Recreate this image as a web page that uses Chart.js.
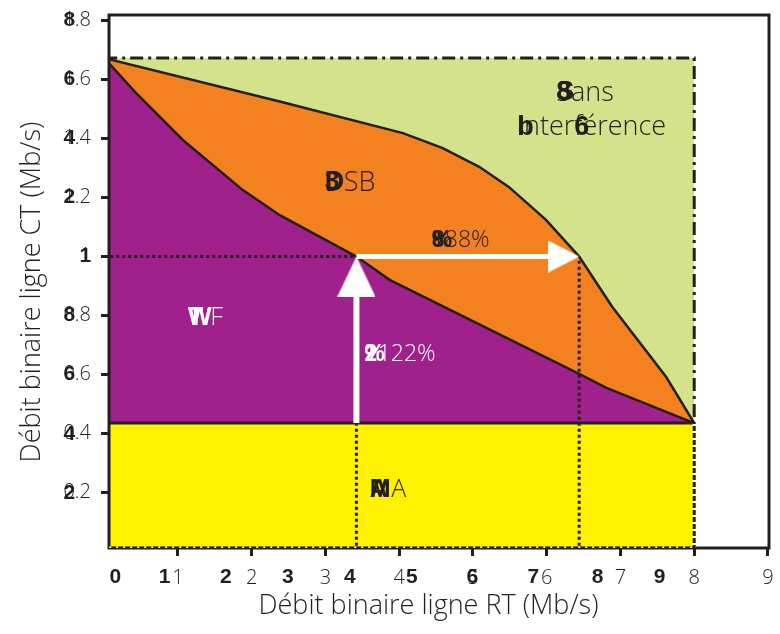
<!DOCTYPE html>
<html>
<head>
<meta charset="utf-8">
<script src="https://cdn.jsdelivr.net/npm/chart.js@4.4.1/dist/chart.umd.min.js"></script>
<style>
  html, body { margin: 0; padding: 0; background: #fff; }
</style>
</head>
<body>
<canvas id="graph" width="780" height="634"></canvas>
<script>
// graduations
var ticksRT = [1, 2, 3, 4, 5, 6, 7, 8, 9];
var ticksCT = [0.2, 0.4, 0.6, 0.8, 1, 1.2, 1.4, 1.6, 1.8];
var grasRT = ['0', '1', '2', '3', '4', '5', '6', '7', '8', '9'];
var grasRTval = [0.15, 0.82, 1.65, 2.49, 3.33, 4.17, 4.99, 5.82, 6.69, 7.53];
var grasCT = ['2', '4', '6', '8', '1', '2', '4', '6', '8'];

// limites des zones (Mb/s)
var rtMax = 8;
var ctMax = 1.672;
var ctMA = 0.436;

// frontiere haute de la zone DSB
var rtDSB = [0, 2.38, 4.05, 4.59, 5.09, 5.49, 5.99, 6.44, 6.89, 7.62, 8];
var ctDSB = [1.672, 1.525, 1.418, 1.367, 1.303, 1.235, 1.124, 1.0, 0.829, 0.592, 0.436];

// frontiere haute de la zone WF
var rtWF = [0, 0.42, 1.07, 1.88, 2.38, 3.42, 3.87, 6.44, 6.81, 8];
var ctWF = [1.672, 1.557, 1.394, 1.225, 1.14, 1.0, 0.921, 0.603, 0.555, 0.436];

// points des fleches (+122% puis +88%)
var rtA = 3.42, ctA = 1.0;
var rtB = 6.44, ctB = 1.0;

// textes des zones
var etiquettes = ['Sans', 'Interférence', 'DSB', '+88%', '+122%', 'WF', 'MA'];
var etiqRT = [6.13, 5.60, 2.99, 4.44, 3.53, 1.135, 3.60];
var etiqCT = [1.554, 1.438, 1.249, 1.053, 0.667, 0.792, 0.209];
var etiqTaille = [27, 27, 27, 23, 23, 25, 25];
var etiqGras = [[[0, '8S']], [[0, 'bI'], [5, '6']], [[0, '3D']], [[0, '8%']], [[0, '2%']], [[0, 'TW']], [[0, 'AM']]];
var etiqBlanc = [false, false, false, false, true, true, false];

var noir = '#231f20';
var police = '"Open Sans", "Liberation Sans", sans-serif';
var policeGras = '"Liberation Sans", sans-serif';

function pts(xs, ys) {
    return xs.map(function(x, i) { return {x: x, y: ys[i]}; });
}

function pointe(w, h, sens) {
    var c = document.createElement('canvas');
    var g;
    if (sens === 'haut') {
        c.width = w; c.height = h * 2;
        g = c.getContext('2d');
        g.beginPath(); g.moveTo(w / 2, h); g.lineTo(w, h * 2); g.lineTo(0, h * 2);
    } else {
        c.width = w * 2; c.height = h;
        g = c.getContext('2d');
        g.beginPath(); g.moveTo(w, h / 2); g.lineTo(0, h); g.lineTo(0, 0);
    }
    g.closePath();
    g.fillStyle = '#fff';
    g.fill();
    return c;
}

var cadre = {
    id: 'cadre',
    afterDatasetDraw: function(chart, args) {
        if (chart.data.datasets[args.index].label !== 'MA') return;
        var a = chart.chartArea, c = chart.ctx;
        c.save();
        c.strokeStyle = noir;
        c.lineWidth = 3;
        c.strokeRect(a.left, a.top, a.right - a.left, a.bottom - a.top);
        c.restore();
    }
};

var textes = {
    id: 'textes',
    afterDraw: function(chart) {
        var c = chart.ctx, sx = chart.scales.x, sy = chart.scales.y, a = chart.chartArea;
        c.save();
        c.textBaseline = 'middle';
        c.fillStyle = noir;

        // chiffres gras sous l'axe RT
        c.font = 'bold 21px ' + policeGras;
        c.textAlign = 'center';
        grasRT.forEach(function(t, i) {
            c.fillText(t, sx.getPixelForValue(grasRTval[i]), a.bottom + 29);
        });

        // chiffres gras sur l'axe CT
        c.textAlign = 'left';
        ticksCT.forEach(function(v, i) {
            c.font = '300 20px ' + police;
            var d = a.left - 18 - c.measureText(String(v)).width;
            c.font = 'bold 21px ' + policeGras;
            c.fillText(grasCT[i], d, sy.getPixelForValue(v));
        });

        // noms des zones
        etiquettes.forEach(function(t, i) {
            var x = sx.getPixelForValue(etiqRT[i]);
            var y = sy.getPixelForValue(etiqCT[i]);
            var taille = etiqTaille[i];
            c.fillStyle = etiqBlanc[i] ? '#fff' : noir;
            c.font = '300 ' + taille + 'px ' + police;
            c.fillText(t, x, y);
            etiqGras[i].forEach(function(g) {
                c.font = '300 ' + taille + 'px ' + police;
                var dx = c.measureText(t.slice(0, g[0])).width;
                c.font = 'bold ' + taille + 'px ' + policeGras;
                for (var k = 0; k < g[1].length; k++) {
                    c.fillText(g[1].charAt(k), x + dx, y);
                }
            });
        });
        c.restore();
    }
};

var ctx = document.getElementById('graph');
var myChart = new Chart(ctx, {
    type: 'line',
    data: {
        datasets: [{
            label: 'Sans interférence',
            data: pts([0, rtMax, rtMax], [ctMax, ctMax, 0]),
            fill: 'origin',
            backgroundColor: '#d4e28b',
            borderWidth: 0,
            order: 10
        }, {
            label: 'DSB',
            data: pts(rtDSB, ctDSB),
            fill: 'origin',
            backgroundColor: '#f3811f',
            borderColor: noir,
            borderWidth: 2.5,
            order: 9
        }, {
            label: 'WF',
            data: pts(rtWF, ctWF),
            fill: 'origin',
            backgroundColor: '#a0218b',
            borderColor: noir,
            borderWidth: 2.5,
            order: 8
        }, {
            label: 'MA',
            data: pts([0, rtMax], [ctMA, ctMA]),
            fill: 'origin',
            backgroundColor: '#fff100',
            borderColor: noir,
            borderWidth: 3,
            order: 7
        }, {
            label: 'bord MA blanc',
            data: pts([0, 0, rtMax, rtMax], [ctMA, 0.013, 0.013, ctMA]),
            borderColor: '#fff',
            borderWidth: 3,
            order: 6
        }, {
            label: 'bord MA',
            data: pts([0, 0, rtMax, rtMax], [ctMA, 0.013, 0.013, ctMA]),
            borderColor: noir,
            borderWidth: 3,
            borderDash: [5, 2],
            order: 5
        }, {
            label: 'bord sans interférence',
            data: pts([0, rtMax, rtMax], [ctMax, ctMax, ctMA]),
            borderColor: noir,
            borderWidth: 3,
            borderDash: [13, 5, 3, 5],
            order: 5
        }, {
            label: 'repere CT',
            data: pts([0, rtA], [ctA, ctA]),
            borderColor: noir,
            borderWidth: 3,
            borderDash: [3, 3],
            order: 4
        }, {
            label: 'repere A',
            data: pts([rtA, rtA], [0, ctMA]),
            borderColor: noir,
            borderWidth: 3,
            borderDash: [3, 3],
            order: 4
        }, {
            label: 'repere B',
            data: pts([rtB, rtB], [0, ctB]),
            borderColor: noir,
            borderWidth: 3,
            borderDash: [3, 3],
            order: 4
        }, {
            label: 'fleche +122%',
            data: pts([rtA, rtA], [ctMA, ctA - 0.1]),
            borderColor: '#fff',
            borderWidth: 6,
            order: 3
        }, {
            label: 'fleche +88%',
            data: pts([rtA, rtB - 0.2], [ctA, ctB]),
            borderColor: '#fff',
            borderWidth: 5,
            order: 3
        }, {
            label: 'pointe +122%',
            data: pts([rtA], [ctA]),
            showLine: false,
            pointRadius: 10,
            pointStyle: pointe(38, 40, 'haut'),
            order: 2
        }, {
            label: 'pointe +88%',
            data: pts([rtB], [ctB]),
            showLine: false,
            pointRadius: 10,
            pointStyle: pointe(31, 32, 'droite'),
            order: 2
        }]
    },
    options: {
        responsive: false,
        animation: false,
        devicePixelRatio: 1,
        layout: { padding: { left: 0, right: 10, top: 15, bottom: 0 } },
        elements: {
            point: { radius: 0, hoverRadius: 0 },
            line: { tension: 0, fill: false }
        },
        plugins: {
            legend: { display: false },
            tooltip: { enabled: false }
        },
        scales: {
            x: {
                type: 'linear',
                min: 0.065,
                max: 9.014,
                afterBuildTicks: function(axis) {
                    axis.ticks = ticksRT.map(function(v) { return {value: v}; });
                },
                afterFit: function(axis) {
                    axis.height = 86;
                    axis.paddingLeft = 0;
                    axis.paddingRight = 0;
                },
                grid: { drawOnChartArea: false, drawTicks: true, tickLength: 8, tickWidth: 3, tickColor: noir },
                border: { display: false },
                ticks: {
                    padding: 10,
                    color: noir,
                    maxRotation: 0,
                    autoSkip: false,
                    font: { family: police, size: 20, weight: '300' },
                    callback: function(v) { return String(v); }
                },
                title: {
                    display: true,
                    text: 'Débit binaire ligne RT (Mb/s)   ',
                    color: noir,
                    font: { family: police, size: 27, weight: '300' },
                    padding: { top: 0, bottom: 11 }
                }
            },
            y: {
                min: 0.013,
                max: 1.818,
                afterBuildTicks: function(axis) {
                    axis.ticks = ticksCT.map(function(v) { return {value: v}; });
                },
                afterFit: function(axis) {
                    axis.width = 109;
                    axis.paddingTop = 0;
                    axis.paddingBottom = 0;
                },
                grid: { drawOnChartArea: false, drawTicks: true, tickLength: 8, tickWidth: 3, tickColor: noir },
                border: { display: false },
                ticks: {
                    padding: 10,
                    color: noir,
                    autoSkip: false,
                    font: { family: police, size: 20, weight: '300' },
                    callback: function(v) { return String(v); }
                },
                title: {
                    display: true,
                    text: 'Débit binaire ligne CT (Mb/s)   ',
                    color: noir,
                    font: { family: police, size: 27, weight: '300' },
                    padding: { top: 16, bottom: 0 }
                }
            }
        }
    },
    plugins: [cadre, textes]
});
</script>
</body>
</html>
